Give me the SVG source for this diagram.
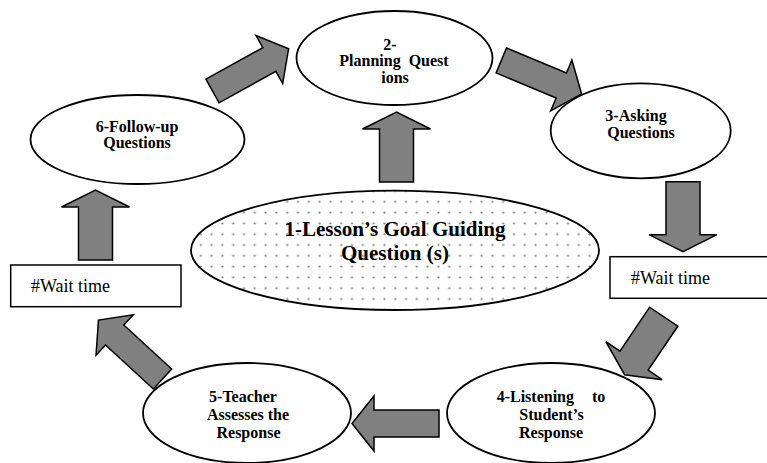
<svg xmlns="http://www.w3.org/2000/svg" width="767" height="463" viewBox="0 0 767 463">
<style>
.node{fill:#fff;stroke:#000;stroke-width:1.8}
.box{fill:#fff;stroke:#000;stroke-width:1.5}
.arrow{fill:#808080;stroke:#000;stroke-width:1.5;stroke-linejoin:miter}
text{font-family:'Liberation Serif','Times New Roman',Tinos,'DejaVu Serif',serif;fill:#000}
.t{font-size:16px;font-weight:bold;text-anchor:middle}
.tc{font-size:21px;font-weight:bold;text-anchor:middle}
.tw{font-size:18px}
</style>
<defs>
<pattern id="dots" patternUnits="userSpaceOnUse" width="10.8" height="10.8" x="1" y="2">
<rect width="10.8" height="10.8" fill="#fff"/>
<circle cx="5.4" cy="5.4" r="1.1" fill="#777"/>
</pattern>
<polygon id="big" points="0,-17 53,-17 53,-34 70,0 53,34 53,17 0,17"/>
<polygon id="small" points="0,-13.5 65,-13.5 65,-27.5 87,0 65,27.5 65,13.5 0,13.5"/>
</defs>
<rect width="767" height="463" fill="#fff"/>
<g id="connectors">
<use href="#small" class="arrow" transform="translate(212.5,91) rotate(-29)"/>
<use href="#small" class="arrow" transform="translate(501.3,60.5) rotate(22.6)"/>
<use href="#big" class="arrow" transform="translate(683,181.7) rotate(90)"/>
<use href="#big" class="arrow" transform="translate(663.7,316.7) rotate(124)"/>
<use href="#small" class="arrow" transform="translate(439,423.5) rotate(180)"/>
<use href="#small" class="arrow" transform="translate(162.5,379) rotate(-137.4)"/>
<use href="#big" class="arrow" transform="translate(95.5,260) rotate(-90)"/>
<use href="#big" class="arrow" transform="translate(396.5,182) rotate(-90)"/>
</g>
<g id="node1">
<ellipse cx="395" cy="250.3" rx="204" ry="59.7" fill="url(#dots)" stroke="#000" stroke-width="1.8"/>
<text class="tc" x="395" y="236" font-family="Liberation Serif, serif">1-Lesson’s Goal Guiding</text>
<text class="tc" x="395" y="260" font-family="Liberation Serif, serif">Question (s)</text>
</g>
<g id="node2">
<ellipse class="node" cx="394.5" cy="58" rx="98" ry="47"/>
<text class="t" x="390" y="50">2-</text>
<text class="t" x="394" y="66" word-spacing="4">Planning Quest</text>
<text class="t" x="395" y="83">ions</text>
</g>
<g id="node3">
<ellipse class="node" cx="640.7" cy="130.8" rx="90" ry="47.5"/>
<text class="t" x="636" y="121">3-Asking</text>
<text class="t" x="641" y="138">Questions</text>
</g>
<g id="wait_right">
<rect class="box" x="610" y="256.7" width="180" height="41.6"/>
<text class="tw" x="631" y="284">#Wait time</text>
</g>
<g id="node4">
<ellipse class="node" cx="551" cy="413" rx="104" ry="50"/>
<text class="t" x="551" y="402" word-spacing="14">4-Listening to</text>
<text class="t" x="551.5" y="420">Student’s</text>
<text class="t" x="551" y="438">Response</text>
</g>
<g id="node5">
<ellipse class="node" cx="247" cy="413" rx="104" ry="50"/>
<text class="t" x="243" y="402">5-Teacher</text>
<text class="t" x="248" y="420">Assesses the</text>
<text class="t" x="248.5" y="438">Response</text>
</g>
<g id="wait_left">
<rect class="box" x="10.7" y="265" width="170.3" height="41.7"/>
<text class="tw" x="31" y="292.3">#Wait time</text>
</g>
<g id="node6">
<ellipse class="node" cx="137.5" cy="139.5" rx="107" ry="44.5"/>
<text class="t" x="137" y="131.7">6-Follow-up</text>
<text class="t" x="137" y="148.3">Questions</text>
</g>
</svg>
